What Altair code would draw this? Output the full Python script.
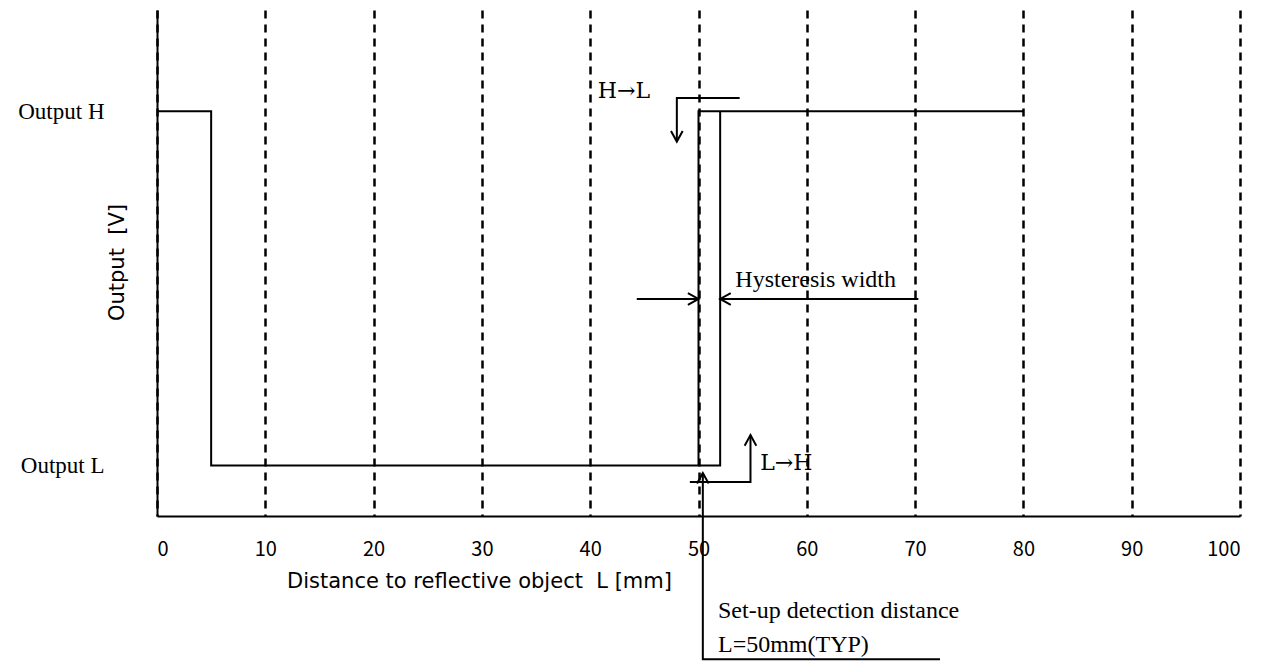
import altair as alt
import pandas as pd

# ---- data ----
x_ticks = [0, 10, 20, 30, 40, 50, 60, 70, 80, 90, 100]
level_values = [1, 8]
level_names = ["Output L", "Output H"]

# output trace (two polylines)
trace_series = ["a", "a", "a", "a", "a", "b", "b", "b"]
trace_order = [0, 1, 2, 3, 4, 0, 1, 2]
trace_x = [0, 5, 5, 52, 52, 50, 50, 80]
trace_y = [8, 8, 1, 1, 8, 1, 8, 8]

# annotation leader lines
lead_id = ["hl", "hl", "hl", "hw1", "hw1", "hw2", "hw2",
           "lh", "lh", "lh", "set", "set", "set"]
lead_order = [0, 1, 2, 0, 1, 0, 1, 0, 1, 2, 0, 1, 2]
lead_x = [53.8, 48, 48, 44.3, 50, 70.3, 52, 49.2, 54.8, 54.8, 50.4, 50.4, 72.3]
lead_y = [8.26, 8.26, 7.4, 4.29, 4.29, 4.29, 4.29, 0.67, 0.67, 1.6, 0.85, -2.83, -2.83]

# arrow heads (tip position, direction)
head_x = [48, 50, 52, 54.8, 50.4]
head_y = [7.4, 4.29, 4.29, 1.6, 0.85]
head_angle = [0, 270, 90, 180, 180]

# annotation texts
label_text = ["Hysteresis width", "Set-up detection distance", "L=50mm(TYP)"]
label_x = [53.4, 51.8, 51.8]
label_y = [4.53, -2.02, -2.69]

arrow_text = ["H→L", "L→H"]
arrow_x = [40.7, 55.7]
arrow_y = [8.26, 0.91]

trace_df = pd.DataFrame({"s": trace_series, "o": trace_order, "x": trace_x, "y": trace_y})
lead_df = pd.DataFrame({"id": lead_id, "o": lead_order, "x": lead_x, "y": lead_y})
head_df = pd.DataFrame({"x": head_x, "y": head_y, "a": head_angle})
label_df = pd.DataFrame({"t": label_text, "x": label_x, "y": label_y})
arrow_df = pd.DataFrame({"t": arrow_text, "x": arrow_x, "y": arrow_y})

SANS = "Noto Sans CJK JP"
TITLE_SANS = "DejaVu Sans"
SERIF = "Liberation Serif"

label_expr = " : ".join(
    [f"datum.value == {v} ? '{n}'" for v, n in zip(level_values, level_names)]
) + " : ''"

xs = alt.Scale(domain=[0, 100], nice=False, zero=False)
ys = alt.Scale(domain=[0, 10], nice=False, zero=False)

x_axis = alt.Axis(
    values=x_ticks, title="Distance to reflective object\u00a0\u00a0L [mm]",
    grid=True, gridDash=[8, 6], gridWidth=2.5, gridColor="black", gridOpacity=1,
    ticks=False, domainColor="black", domainWidth=2,
    labelFont=SANS, labelFontSize=20, labelColor="black", labelPadding=23,
    titleFont=TITLE_SANS, titleFontSize=21, titleFontWeight="normal", titleColor="black",
    titleX=322, titleY=65, titleAlign="center", titleBaseline="middle",
)
y_axis = alt.Axis(
    values=level_values, labelExpr=label_expr, title="Output\u00a0\u00a0[V]",
    grid=False, ticks=False, domainColor="black", domainWidth=2,
    labelFont=SERIF, labelFontSize=23, labelColor="black", labelPadding=53,
    labelAlign="right", labelBaseline="middle",
    titleFont=TITLE_SANS, titleFontSize=21, titleFontWeight="normal", titleColor="black",
    titleX=-40, titleY=252, titleAlign="center", titleBaseline="middle", titleAngle=-90,
)

trace = alt.Chart(trace_df).mark_line(color="black", strokeWidth=2).encode(
    x=alt.X("x:Q", scale=xs, axis=x_axis),
    y=alt.Y("y:Q", scale=ys, axis=y_axis),
    detail="s:N", order="o:Q",
)

leads = alt.Chart(lead_df).mark_line(color="black", strokeWidth=2).encode(
    x=alt.X("x:Q", scale=xs), y=alt.Y("y:Q", scale=ys),
    detail="id:N", order="o:Q",
)

heads = alt.Chart(head_df).mark_point(
    shape="M-0.55,-1L0,0L0.55,-1", filled=False, color="black",
    strokeWidth=2, size=450, opacity=1,
).encode(
    x=alt.X("x:Q", scale=xs), y=alt.Y("y:Q", scale=ys),
    angle=alt.Angle("a:Q", scale=None),
)

labels = alt.Chart(label_df).mark_text(
    align="left", baseline="alphabetic", font=SERIF, fontSize=24, color="black",
).encode(
    x=alt.X("x:Q", scale=xs), y=alt.Y("y:Q", scale=ys), text="t:N",
)

arrow_labels = alt.Chart(arrow_df).mark_text(
    align="left", baseline="alphabetic", font="DejaVu Serif", fontSize=22,
    color="black",
).encode(
    x=alt.X("x:Q", scale=xs), y=alt.Y("y:Q", scale=ys), text="t:N",
)

chart = alt.layer(trace, leads, heads, labels, arrow_labels).properties(
    width=1083, height=506,
    autosize=alt.AutoSizeParams(type="none"),
    padding={"left": 149, "top": 2, "right": 15, "bottom": 145},
    background="white",
).configure_view(stroke=None)

chart.save("out.html", embed_options={"renderer": "svg", "actions": False})
